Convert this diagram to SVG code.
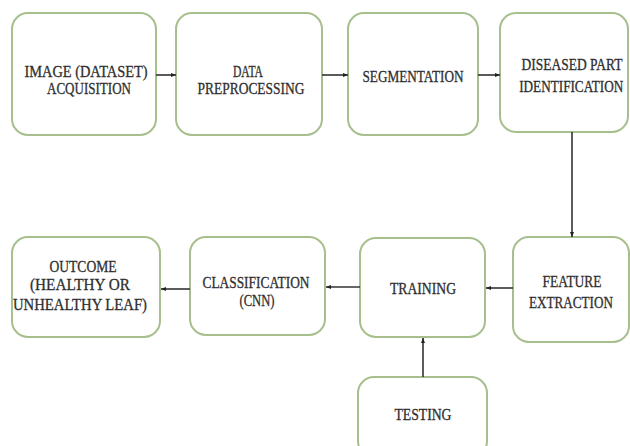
<svg xmlns="http://www.w3.org/2000/svg" width="630" height="446" viewBox="0 0 630 446">
<style>
.box{fill:#fff;stroke:#a7bf8c;stroke-width:2}
.t{font-family:"Liberation Serif","Times New Roman",serif;font-size:16px;fill:#2f2f2f;stroke:#2f2f2f;stroke-width:0.3;text-anchor:middle}
.c{stroke:#333;stroke-width:1.6;fill:none;marker-end:url(#ah)}
</style>
<defs>
<marker id="ah" viewBox="0 0 10 10" refX="10" refY="5" markerWidth="5" markerHeight="5" orient="auto" markerUnits="userSpaceOnUse">
<path d="M0,1 L10,5 L0,9 z" fill="#222"/>
</marker>
</defs>
<rect width="630" height="446" fill="#fff"/>
<g id="n1"><rect class="box" x="12" y="13" width="144" height="122" rx="16"/>
<text class="t" x="86" y="77" textLength="123" lengthAdjust="spacingAndGlyphs">IMAGE (DATASET)</text>
<text class="t" x="89" y="94" textLength="84" lengthAdjust="spacingAndGlyphs">ACQUISITION</text></g>
<g id="n2"><rect class="box" x="176" y="13" width="146" height="122" rx="16"/>
<text class="t" x="248" y="77" textLength="30" lengthAdjust="spacingAndGlyphs">DATA</text>
<text class="t" x="251" y="94" textLength="107" lengthAdjust="spacingAndGlyphs">PREPROCESSING</text></g>
<g id="n3"><rect class="box" x="348" y="13" width="130" height="122" rx="16"/>
<text class="t" x="413" y="82" textLength="101" lengthAdjust="spacingAndGlyphs">SEGMENTATION</text></g>
<g id="n4"><rect class="box" x="500" y="13" width="128" height="119" rx="16"/>
<g transform="scale(0.8,1)">
<text class="t" x="715" y="70" font-size="17" textLength="126" lengthAdjust="spacingAndGlyphs">DISEASED PART</text>
<text class="t" x="714" y="92" font-size="17" textLength="130" lengthAdjust="spacingAndGlyphs">IDENTIFICATION</text>
</g></g>
<g id="n5"><rect class="box" x="513" y="237" width="116" height="105" rx="16"/>
<text class="t" x="572" y="287" textLength="59" lengthAdjust="spacingAndGlyphs">FEATURE</text>
<text class="t" x="571" y="308" textLength="84" lengthAdjust="spacingAndGlyphs">EXTRACTION</text></g>
<g id="n6"><rect class="box" x="360" y="238" width="125" height="99" rx="16"/>
<text class="t" x="423" y="294" textLength="66" lengthAdjust="spacingAndGlyphs">TRAINING</text></g>
<g id="n7"><rect class="box" x="190" y="237" width="135" height="98" rx="16"/>
<text class="t" x="256" y="288" textLength="107" lengthAdjust="spacingAndGlyphs">CLASSIFICATION</text>
<text class="t" x="257" y="306" textLength="35" lengthAdjust="spacingAndGlyphs">(CNN)</text></g>
<g id="n8"><rect class="box" x="12" y="237" width="148" height="100" rx="16"/>
<text class="t" x="83" y="272" textLength="67" lengthAdjust="spacingAndGlyphs">OUTCOME</text>
<text class="t" x="80" y="290" textLength="100" lengthAdjust="spacingAndGlyphs">(HEALTHY OR</text>
<text class="t" x="80" y="310" textLength="134" lengthAdjust="spacingAndGlyphs">UNHEALTHY LEAF)</text></g>
<g id="n9"><rect class="box" x="358" y="377" width="129" height="80" rx="16"/>
<text class="t" x="423" y="420" textLength="57" lengthAdjust="spacingAndGlyphs">TESTING</text></g>
<g id="connectors">
<line class="c" x1="156" y1="75" x2="176" y2="75"/>
<line class="c" x1="322" y1="75" x2="348" y2="75"/>
<line class="c" x1="478" y1="75" x2="500" y2="75"/>
<line class="c" x1="572" y1="132" x2="572" y2="237"/>
<line class="c" x1="513" y1="288" x2="486" y2="288"/>
<line class="c" x1="360" y1="287" x2="326" y2="287"/>
<line class="c" x1="190" y1="289" x2="161" y2="289"/>
<line class="c" x1="423" y1="377" x2="423" y2="338"/>
</g>
</svg>
